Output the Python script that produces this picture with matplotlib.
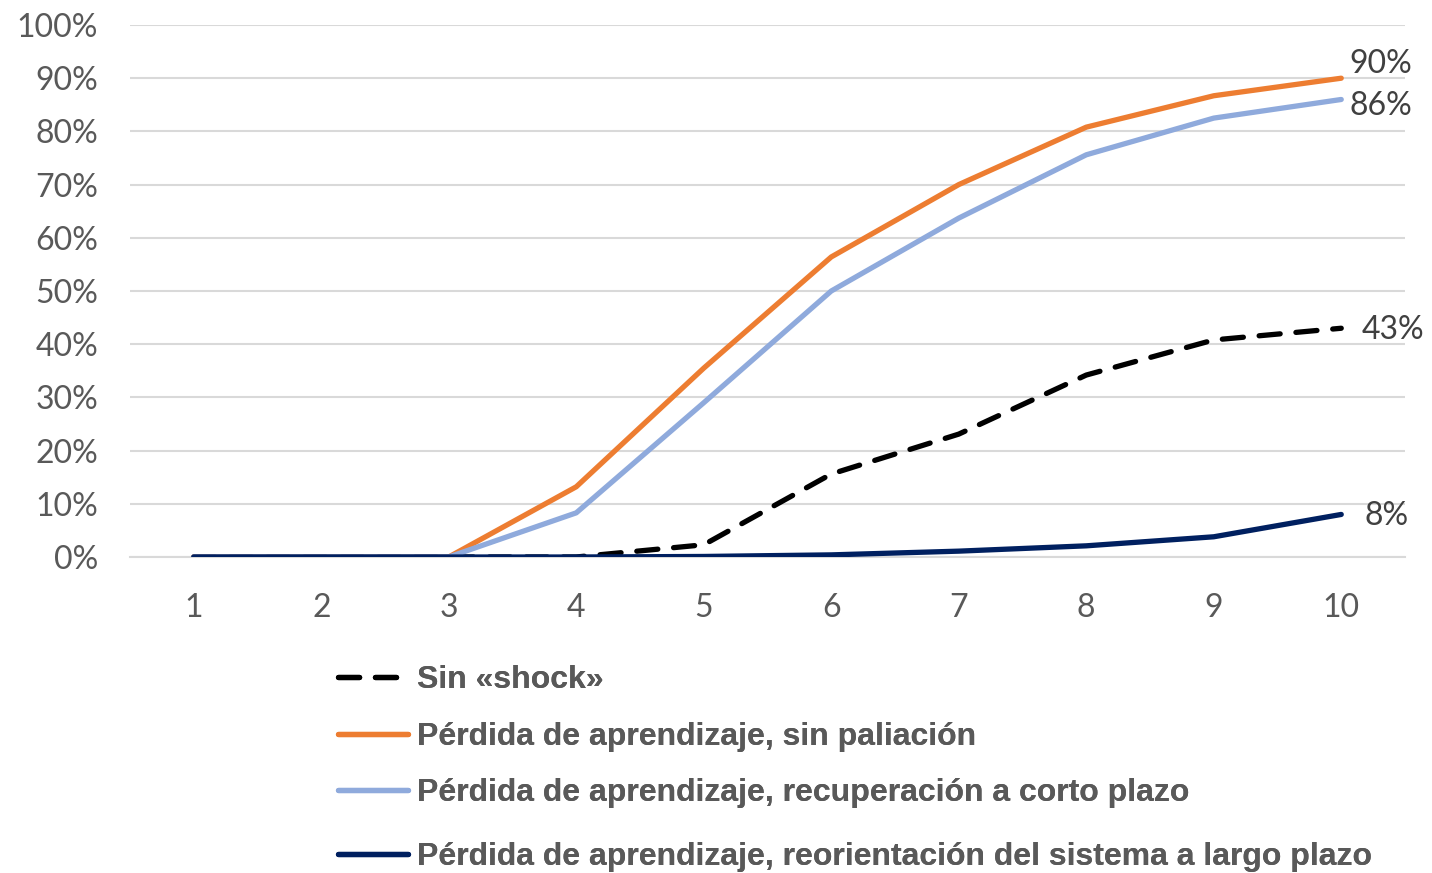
import matplotlib
matplotlib.use("Agg")
import matplotlib.pyplot as plt
from matplotlib.ticker import FuncFormatter, MultipleLocator

years = [1, 2, 3, 4, 5, 6, 7, 8, 9, 10]
sin_shock = [0, 0, 0, 0, 2.3, 15.6, 23.1, 34.2, 40.8, 43]
sin_paliacion = [0, 0, 0, 13.2, 35.5, 56.4, 70, 80.8, 86.7, 90]
corto_plazo = [0, 0, 0, 8.3, 29, 50, 63.7, 75.6, 82.5, 86]
largo_plazo = [0, 0, 0, 0, 0.1, 0.4, 1.1, 2.1, 3.8, 8]

labels = [
    "Sin «shock»",
    "Pérdida de aprendizaje, sin paliación",
    "Pérdida de aprendizaje, recuperación a corto plazo",
    "Pérdida de aprendizaje, reorientación del sistema a largo plazo",
]

tick_font = "Lato"
tick_color = "#595959"
label_color = "#404040"

fig = plt.figure(figsize=(14.32, 8.73), dpi=100)
ax = fig.add_axes([130 / 1432, 1 - 557 / 873, 1275 / 1432, 532 / 873])

lw = 3.8
h_shock, = ax.plot(years, sin_shock, color="black", lw=lw, dashes=(4, 3),
                   dash_capstyle="round", zorder=3)
h_pal, = ax.plot(years, sin_paliacion, color="#ED7D31", lw=lw, zorder=4,
                 solid_capstyle="round")
h_corto, = ax.plot(years, corto_plazo, color="#8FAADC", lw=lw, zorder=4,
                   solid_capstyle="round")
h_largo, = ax.plot(years, largo_plazo, color="#002060", lw=lw, zorder=5,
                   solid_capstyle="round")

ax.set_xlim(0.5, 10.5)
ax.set_ylim(0, 100)
ax.yaxis.set_major_locator(MultipleLocator(10))
ax.yaxis.set_major_formatter(FuncFormatter(lambda v, p: f"{v:.0f}%"))
ax.set_xticks(years)
ax.grid(axis="y", color="#D9D9D9", lw=1.5, zorder=0)
ax.set_axisbelow(True)
for s in ["top", "right", "left"]:
    ax.spines[s].set_visible(False)
ax.spines["bottom"].set_color("#D9D9D9")
ax.spines["bottom"].set_linewidth(1.5)
ax.tick_params(axis="both", length=0, labelsize=23, labelcolor=tick_color)
ax.tick_params(axis="y", pad=23)
ax.tick_params(axis="x", pad=26)
for t in ax.get_xticklabels() + ax.get_yticklabels():
    t.set_fontfamily(tick_font)

# end-point value labels
end_labels = [
    (sin_paliacion[-1], 6, 10),
    (corto_plazo[-1], 6, -5),
    (sin_shock[-1], 15, -1),
    (largo_plazo[-1], 17, -1),
]
for val, dx, dy in end_labels:
    ax.annotate(f"{val:.0f}%", xy=(years[-1], val), xytext=(dx, dy),
                textcoords="offset points", ha="left", va="center",
                fontsize=23, color=label_color, fontfamily=tick_font)

# legend: one row per series, stacked below the axis
handles = [h_shock, h_pal, h_corto, h_largo]
row_y = [680, 737, 793, 857]
for h, lab, y in zip(handles, labels, row_y):
    leg = fig.legend([h], [lab], loc="center left",
                     bbox_to_anchor=(338 / 1432, 1 - y / 873),
                     frameon=False, handlelength=2.2, handletextpad=0.28,
                     borderaxespad=0, borderpad=0,
                     prop={"family": "Liberation Sans", "weight": "bold",
                           "size": 23})
    for t in leg.get_texts():
        t.set_color(tick_color)
    fig.add_artist(leg)

fig.savefig("out.png", dpi=100)
